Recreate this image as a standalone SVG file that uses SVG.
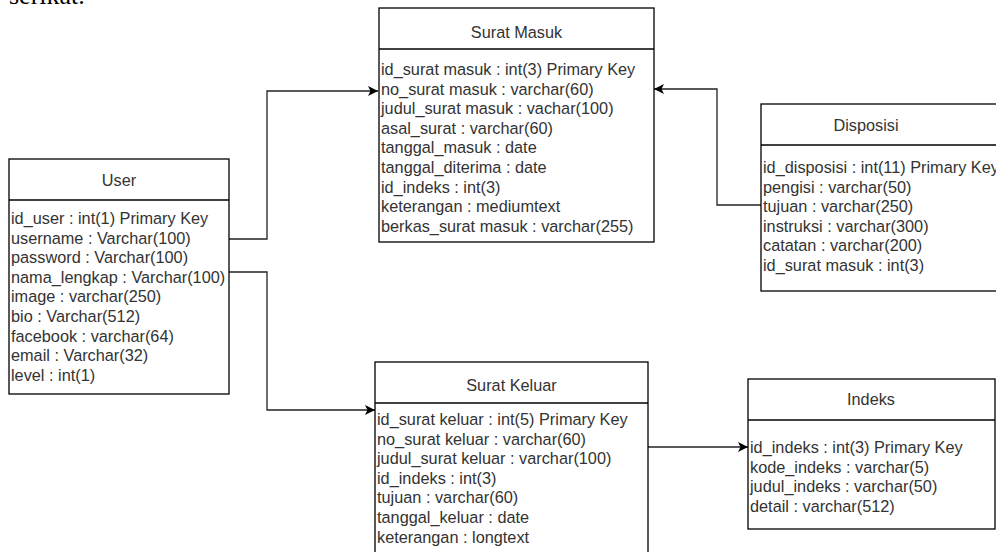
<svg xmlns="http://www.w3.org/2000/svg" width="996" height="552" viewBox="0 0 996 552">
<style>
.box{fill:#ffffff;stroke:#000000;stroke-width:1.3}
.div{stroke:#000000;stroke-width:1.3}
.t{font-family:"Liberation Sans",Arial,sans-serif;font-size:16.3px;fill:#333333}
.h{font-family:"Liberation Sans",Arial,sans-serif;font-size:16.3px;fill:#333333;text-anchor:middle}
.c{fill:none;stroke:#222222;stroke-width:1.3}
.cap{font-family:"Liberation Serif","Times New Roman",serif;font-size:26px;fill:#000000}
</style>
<defs>
<marker id="arr" viewBox="0 0 10 10" refX="10" refY="5" markerWidth="10" markerHeight="10" markerUnits="userSpaceOnUse" orient="auto">
<path d="M0,0 L10,5 L0,10 L2.5,5 Z" fill="#000000"/>
</marker>
</defs>
<rect width="996" height="552" fill="#ffffff"/>
<text class="cap" x="9" y="4">serikat.</text>

<g id="connectors">
<path class="c" d="M229,239 H267 V91 H378" marker-end="url(#arr)"/>
<path class="c" d="M229,272 H267 V410 H375" marker-end="url(#arr)"/>
<path class="c" d="M761,205 H717 V89 H654" marker-end="url(#arr)"/>
<path class="c" d="M648,447 H748" marker-end="url(#arr)"/>
</g>

<g id="surat-masuk">
<rect class="box" x="379" y="8" width="275" height="234"/>
<line class="div" x1="379" y1="49" x2="654" y2="49"/>
<text class="h" x="516.5" y="38">Surat Masuk</text>
<text class="t" x="381" y="75">id_surat masuk : int(3) Primary Key</text>
<text class="t" x="381" y="94.6">no_surat masuk : varchar(60)</text>
<text class="t" x="381" y="114.2">judul_surat masuk : vachar(100)</text>
<text class="t" x="381" y="133.8">asal_surat : varchar(60)</text>
<text class="t" x="381" y="153.4">tanggal_masuk : date</text>
<text class="t" x="381" y="173">tanggal_diterima : date</text>
<text class="t" x="381" y="192.6">id_indeks : int(3)</text>
<text class="t" x="381" y="212.2">keterangan : mediumtext</text>
<text class="t" x="381" y="231.8">berkas_surat masuk : varchar(255)</text>
</g>

<g id="user">
<rect class="box" x="9" y="159" width="220" height="235"/>
<line class="div" x1="9" y1="200" x2="229" y2="200"/>
<text class="h" x="119" y="186">User</text>
<text class="t" x="11" y="224">id_user : int(1) Primary Key</text>
<text class="t" x="11" y="243.6">username : Varchar(100)</text>
<text class="t" x="11" y="263.2">password : Varchar(100)</text>
<text class="t" x="11" y="282.8">nama_lengkap : Varchar(100)</text>
<text class="t" x="11" y="302.4">image : varchar(250)</text>
<text class="t" x="11" y="322">bio : Varchar(512)</text>
<text class="t" x="11" y="341.6">facebook : varchar(64)</text>
<text class="t" x="11" y="361.2">email : Varchar(32)</text>
<text class="t" x="11" y="380.8">level : int(1)</text>
</g>

<g id="disposisi">
<rect class="box" x="761" y="104" width="260" height="187"/>
<line class="div" x1="761" y1="145" x2="1021" y2="145"/>
<text class="h" x="866" y="131">Disposisi</text>
<text class="t" x="763" y="173">id_disposisi : int(11) Primary Key</text>
<text class="t" x="763" y="192.6">pengisi : varchar(50)</text>
<text class="t" x="763" y="212.2">tujuan : varchar(250)</text>
<text class="t" x="763" y="231.8">instruksi : varchar(300)</text>
<text class="t" x="763" y="251.4">catatan : varchar(200)</text>
<text class="t" x="763" y="271">id_surat masuk : int(3)</text>
</g>

<g id="surat-keluar">
<rect class="box" x="375" y="362" width="273" height="200"/>
<line class="div" x1="375" y1="403" x2="648" y2="403"/>
<text class="h" x="511.5" y="391">Surat Keluar</text>
<text class="t" x="377" y="425">id_surat keluar : int(5) Primary Key</text>
<text class="t" x="377" y="444.6">no_surat keluar : varchar(60)</text>
<text class="t" x="377" y="464.2">judul_surat keluar : varchar(100)</text>
<text class="t" x="377" y="483.8">id_indeks : int(3)</text>
<text class="t" x="377" y="503.4">tujuan : varchar(60)</text>
<text class="t" x="377" y="523">tanggal_keluar : date</text>
<text class="t" x="377" y="542.6">keterangan : longtext</text>
</g>

<g id="indeks">
<rect class="box" x="748" y="379" width="247" height="150"/>
<line class="div" x1="748" y1="420" x2="995" y2="420"/>
<text class="h" x="871" y="405">Indeks</text>
<text class="t" x="750" y="453">id_indeks : int(3) Primary Key</text>
<text class="t" x="750" y="472.6">kode_indeks : varchar(5)</text>
<text class="t" x="750" y="492.2">judul_indeks : varchar(50)</text>
<text class="t" x="750" y="511.8">detail : varchar(512)</text>
</g>
</svg>
